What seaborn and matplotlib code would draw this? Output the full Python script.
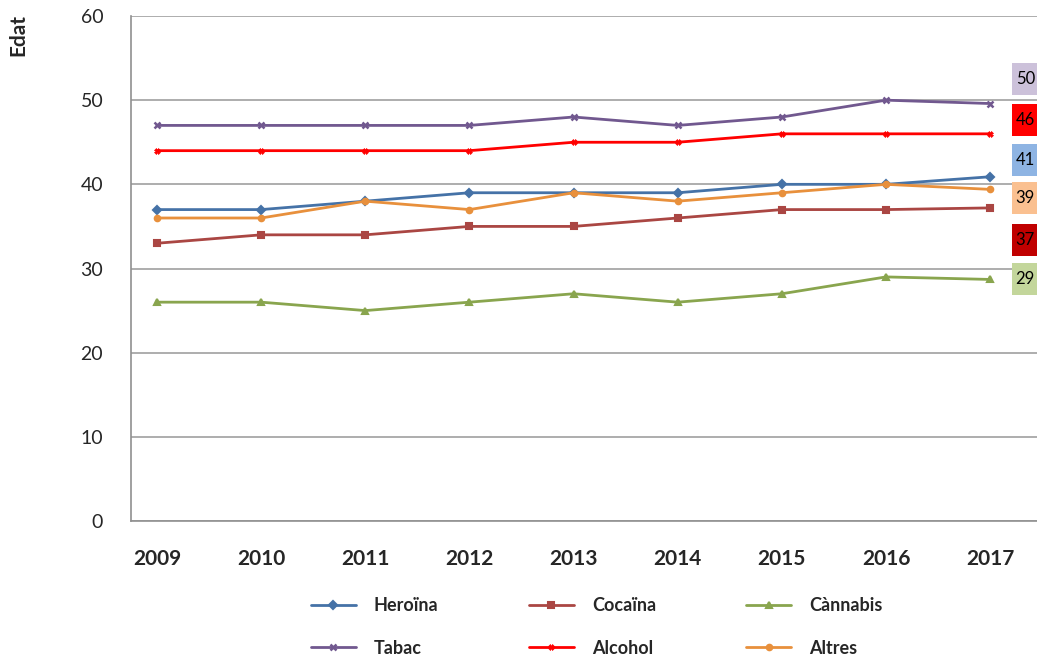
import matplotlib
matplotlib.use("Agg")
import matplotlib.pyplot as plt
from matplotlib.patches import Rectangle
import numpy as np
import pandas as pd
import seaborn as sns

# ── data ──────────────────────────────────────────────────────────────────────
YEARS = ["2009", "2010", "2011", "2012", "2013", "2014", "2015", "2016", "2017"]

heroina  = [37, 37, 38, 39, 39, 39, 40, 40, 40.9]
cocaina  = [33, 34, 34, 35, 35, 36, 37, 37, 37.2]
cannabis = [26, 26, 25, 26, 27, 26, 27, 29, 28.7]
tabac    = [47, 47, 47, 47, 48, 47, 48, 50, 49.6]
alcohol  = [44, 44, 44, 44, 45, 45, 46, 46, 46]
altres   = [36, 36, 38, 37, 39, 38, 39, 40, 39.4]

SERIES = ["Heroïna", "Cocaïna", "Cànnabis", "Tabac", "Alcohol", "Altres"]
COLORS = ["#4572A7", "#AA4643", "#89A54E", "#71588F", "#FF0000", "#E8903C"]
MARKERS = ["D", "s", "^", "x", "X", "o"]
MSIZES = [5, 7, 7, 7, 8, 7]
MEW = [1.5, 1.5, 1.5, 1.8, 0.5, 1.5]

# labels in the boxes at the right edge
BOX_TEXT  = ["50", "46", "41", "39", "37", "29"]
BOX_COLOR = ["#CCC1DA", "#FF0000", "#8EB4E3", "#FAC090", "#C00000", "#C3D69B"]
BOX_Y     = [52.5, 47.6, 42.9, 38.4, 33.4, 28.7]

# ── plot ──────────────────────────────────────────────────────────────────────
sns.set_theme(style="white")
plt.rcParams["font.family"] = ["Lato", "DejaVu Sans"]

df = pd.DataFrame({"year": YEARS, "Heroïna": heroina, "Cocaïna": cocaina,
                   "Cànnabis": cannabis, "Tabac": tabac,
                   "Alcohol": alcohol, "Altres": altres})
long = df.melt(id_vars="year", var_name="serie", value_name="edat")
long["x"] = long["year"].map({y: i for i, y in enumerate(YEARS)})

fig = plt.figure(figsize=(10.37, 6.66), dpi=100)
ax = fig.add_axes([131 / 1037, 1 - 521 / 666, 1 - 131 / 1037, (521 - 16) / 666])

for name, col, mk, ms, mew in zip(SERIES, COLORS, MARKERS, MSIZES, MEW):
    sub = long[long["serie"] == name]
    sns.lineplot(data=sub, x="x", y="edat", ax=ax, color=col, lw=2,
                 marker=mk, markersize=ms, markeredgecolor=col,
                 markeredgewidth=mew, label=name)

ax.set_xlim(-0.25, 8.45)
ax.set_ylim(0, 60)
ax.set_yticks(range(0, 61, 10))
ax.set_xticks(range(len(YEARS)))
ax.set_xticklabels(YEARS, fontsize=15, fontweight="bold")
ax.tick_params(axis="y", labelsize=14, pad=14)
ax.tick_params(axis="x", pad=14)
ax.set_xlabel("")
ax.set_ylabel("")
ax.yaxis.grid(True, color="#a0a0a0", lw=1.2)
for s in ["top", "right"]:
    ax.spines[s].set_visible(False)
for s in ["left", "bottom"]:
    ax.spines[s].set_color("#909090")
    ax.spines[s].set_linewidth(1.2)
ax.set_axisbelow(True)

# legend: rows Heroïna/Cocaïna/Cànnabis then Tabac/Alcohol/Altres
handles, labels = ax.get_legend_handles_labels()
for h in handles:
    h.set_markersize(4)
order = [0, 3, 1, 4, 2, 5]
ax.legend([handles[i] for i in order], [labels[i] for i in order],
          ncol=3, loc="center", bbox_to_anchor=(0.514, -0.21),
          frameon=False, prop={"weight": "bold", "size": 13},
          handlelength=2.5, columnspacing=5.0, labelspacing=1.4,
          handletextpad=1.0)

fig.text(18 / 1037, 1 - 35 / 666, "Edat", rotation=90, ha="center", va="center",
         fontsize=15, fontweight="bold")

# coloured value boxes, cut by the right edge as in the source
for txt, col, yv in zip(BOX_TEXT, BOX_COLOR, BOX_Y):
    ax.add_patch(Rectangle((8.21, yv - 1.9), 1.0, 3.8, facecolor=col,
                           edgecolor="none", clip_on=False, zorder=5))
    ax.text(8.245, yv, txt, fontsize=12, va="center", ha="left",
            color="black", clip_on=False, zorder=6)

fig.savefig("out.png", dpi=100)
